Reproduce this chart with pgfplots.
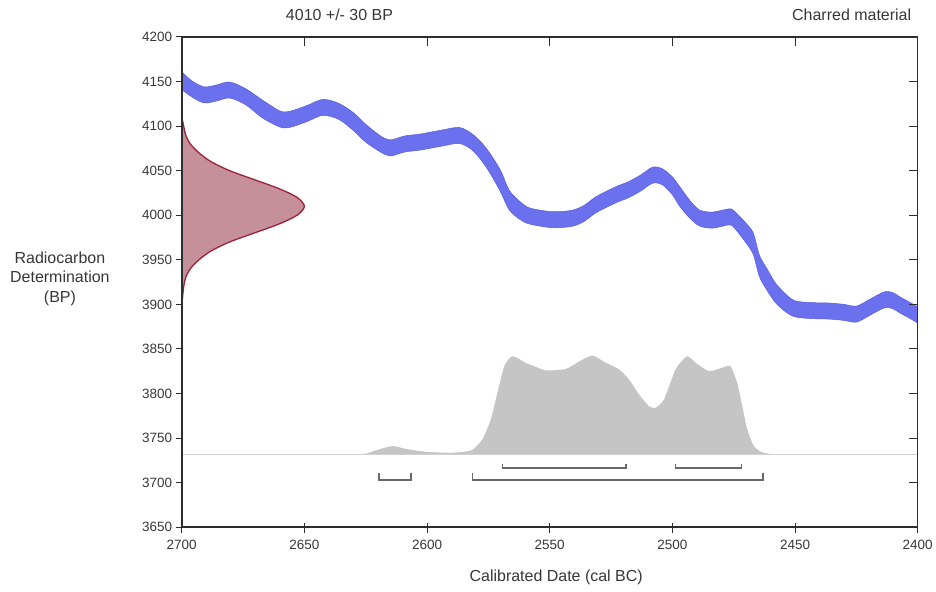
\documentclass[border=0pt]{standalone}
\usepackage{fontspec}
\setmainfont{Liberation Sans}
\usepackage{pgfplots}
\usepackage{pgfplotstable}
\pgfplotsset{compat=1.18}
\usepgfplotslibrary{fillbetween}

\definecolor{bandfill}{RGB}{106,112,238}
\definecolor{bandedge}{RGB}{88,94,218}
\definecolor{probgrey}{RGB}{197,197,197}
\definecolor{basegrey}{RGB}{208,208,208}
\definecolor{brgrey}{RGB}{105,105,105}
\definecolor{redfill}{RGB}{198,144,154}
\definecolor{rededge}{RGB}{158,32,58}
\definecolor{axisdark}{RGB}{45,45,45}
\definecolor{textgrey}{RGB}{55,55,55}

\pgfplotstableread{
x lo hi
2700 4141 4161
2696 4133 4151
2691 4126 4144
2686 4128 4146
2680.5 4131.5 4149.5
2674 4124 4142
2667 4109 4129
2660 4099 4117
2656 4098.5 4116.5
2649 4105 4123
2642.5 4112 4130
2636 4107.5 4125.5
2630 4095 4115
2625 4082 4102
2619 4071 4089
2615 4066.5 4084.5
2609 4071 4089
2603 4073 4091
2595 4077 4095
2587 4080.5 4098.5
2582 4074 4092
2578 4062 4082
2574.5 4048 4070
2570 4026 4050
2566.5 4006 4028
2562 3995 4015
2558 3990 4008
2549 3986 4004
2541 3987.5 4005.5
2536 3993 4011
2531 4003 4021
2523 4014 4032
2518 4019.5 4037.5
2513 4027 4045
2508 4036 4054
2504 4034 4052
2500 4023 4043
2497 4010 4032
2493 3997 4017
2489 3988 4006
2484 3985.5 4003.5
2479 3988 4006
2476 3989 4007
2473 3980 4000
2470 3969 3991
2467 3956 3980
2464.5 3931 3955
2461 3914 3938
2458 3902 3924
2454 3892 3912
2450 3886 3904
2443 3884 3902
2436 3883.5 3901.5
2430 3882 3900
2425 3880 3898
2420 3887 3905
2416 3893 3911
2413 3896.5 3914.5
2410 3895 3913
2407 3890 3908
2403 3884 3902
2400 3879 3897
}\calcurve

\pgfplotstableread{
x y
2630 3732
2625 3732.5
2620 3737
2614 3741
2608 3737.5
2600 3734.5
2590 3733.5
2584 3735
2581.4 3737
2577.4 3748.6
2574 3771
2571.3 3801
2568.5 3830.6
2565.2 3841.9
2559.7 3834.4
2551.6 3826
2543.4 3827.6
2538 3836
2532.6 3842.6
2527.1 3834.4
2521.7 3827
2517.7 3815.8
2513.6 3799
2509.6 3785.9
2506.8 3784
2503.4 3793.4
2498.7 3827
2494 3841.9
2490.5 3834.4
2485.1 3825
2479.7 3828.9
2476.3 3830.6
2473.6 3812
2471.5 3786
2469.5 3760
2466.8 3741
2463.4 3734
2459.3 3732
}\calprob

\pgfplotstableread{
x y
2700 3900
2699.6 3910
2699.2 3920
2698.4 3930
2696.5 3940
2693 3950
2688 3960
2680.5 3970
2670.5 3980
2660.5 3990
2653 4000
2650 4010
2653 4020
2660.5 4030
2670.5 4040
2680.5 4050
2688 4060
2693 4070
2696.5 4080
2698.4 4090
2699.2 4100
2700 4110
}\rcdet

\begin{document}
\begin{tikzpicture}
\path (0pt,0pt) rectangle (936pt,592pt);
\pgfplotsset{
  common/.style={
    at={(182pt,64pt)}, anchor=south west, scale only axis,
    width=737pt, height=491pt,
    x dir=reverse, xmin=2400, xmax=2700, ymin=3650, ymax=4200,
    xtick={2400,2450,...,2700}, ytick={3650,3700,...,4200},
    axis line style={draw=axisdark, line width=1.6pt},
    tick style={draw=axisdark, line width=1pt},
    /pgf/number format/1000 sep={},
    /pgf/number format/assume math mode=true,
    ticklabel style={font=\fontsize{13.5}{16}\selectfont, text=textgrey},
    xticklabel style={yshift=-3pt},
  }
}
\begin{axis}[common,
  xtick pos=left, ytick pos=left,
  tick align=outside, major tick length=6pt,
  clip=true]
  % calibration curve band
  \addplot[name path=hi, draw=bandedge, line width=0.5pt, smooth, tension=0.5] table[x=x, y=hi] {\calcurve};
  \addplot[name path=lo, draw=bandedge, line width=0.5pt, smooth, tension=0.5] table[x=x, y=lo] {\calcurve};
  \addplot[fill=bandfill, draw=none] fill between[of=hi and lo];
  % radiocarbon determination
  \addplot[fill=redfill, draw=rededge, line width=1.3pt, smooth, tension=0.5] table[x=x, y=y] {\rcdet};
  % calibrated probability
  \addplot[fill=probgrey, draw=none, smooth, tension=0.35] table[x=x, y=y] {\calprob};
  \addplot[draw=basegrey, line width=1.2pt] coordinates {(2700,3732) (2400,3732)};
  % ranges
  \addplot[draw=brgrey, line width=1.6pt] coordinates {(2569.2,3721) (2569.2,3716.5) (2519,3716.5) (2519,3721)};
  \addplot[draw=brgrey, line width=1.6pt] coordinates {(2498.7,3721) (2498.7,3716.5) (2471.8,3716.5) (2471.8,3721)};
  \addplot[draw=brgrey, line width=1.6pt] coordinates {(2619.7,3711) (2619.7,3703) (2606.5,3703) (2606.5,3711)};
  \addplot[draw=brgrey, line width=1.6pt] coordinates {(2581.4,3711) (2581.4,3703) (2463.1,3703) (2463.1,3711)};
\end{axis}
\begin{axis}[common,
  xtick pos=right, ytick pos=right,
  xticklabels={}, yticklabels={},
  tick align=inside, major tick length=9pt]
\end{axis}
\begin{axis}[common,
  xtick pos=left, ytick=\empty,
  xticklabels={},
  tick align=inside, major tick length=4pt]
\end{axis}
\node[font=\fontsize{16}{19}\selectfont, text=textgrey] at (340pt,577pt) {4010 +/- 30 BP};
\node[anchor=east, font=\fontsize{16}{19}\selectfont, text=textgrey] at (916pt,577pt) {Charred material};
\node[align=center, font=\fontsize{16}{19.5}\selectfont, text=textgrey] at (60pt,313pt) {Radiocarbon\\Determination\\(BP)};
\node[font=\fontsize{16}{19}\selectfont, text=textgrey] at (557pt,14pt) {Calibrated Date (cal BC)};
\end{tikzpicture}
\end{document}
